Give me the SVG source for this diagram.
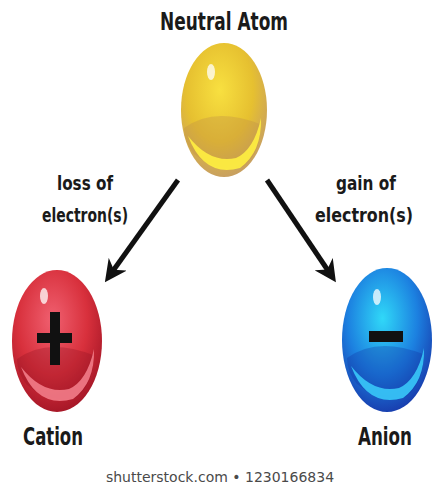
<svg xmlns="http://www.w3.org/2000/svg" width="432" height="489" viewBox="0 0 432 489">
  <style>
    .title { font-family: "DejaVu Sans Condensed", "Liberation Sans", sans-serif; font-weight: bold; fill: #1a1a1a; }
    .label { font-family: "DejaVu Sans Condensed", "Liberation Sans", sans-serif; font-weight: bold; fill: #1a1a1a; font-size: 20px; text-anchor: middle; }
    .mark { font-family: "DejaVu Sans", "Liberation Sans", sans-serif; fill: #4a4a4a; font-size: 14px; }
    .arrow { stroke: #111; stroke-width: 5; fill: none; marker-end: url(#head); }
    .shine { fill: #fff; opacity: 0.75; }
  </style>
  <defs>
    <marker id="head" viewBox="0 0 10 10" refX="6" refY="5" markerWidth="4.4" markerHeight="4.4" orient="auto">
      <path d="M0,0 L10,5 L0,10 L3,5 Z" fill="#111"/>
    </marker>
    <!-- sphere shading: shadow band and bright crescent, relative to the sphere centre -->
    <path id="band" d="M-40,18 Q-10,-4 36,14 Q38,40 20,56 Q-6,64 -30,44 Q-40,32 -40,18 Z"/>
    <path id="crescent" d="M-36,26 Q-20,68 16,58 Q38,42 37,8 Q30,40 12,48 Q-14,54 -36,26 Z"/>
    <radialGradient id="gYellow" cx="0.45" cy="0.35" r="0.65">
      <stop offset="0" stop-color="#f8e040"/>
      <stop offset="0.6" stop-color="#e6c030"/>
      <stop offset="1" stop-color="#c8a060"/>
    </radialGradient>
    <radialGradient id="gRed" cx="0.45" cy="0.35" r="0.65">
      <stop offset="0" stop-color="#f06070"/>
      <stop offset="0.6" stop-color="#d8303c"/>
      <stop offset="1" stop-color="#a81828"/>
    </radialGradient>
    <radialGradient id="gBlue" cx="0.45" cy="0.35" r="0.65">
      <stop offset="0" stop-color="#30d8f8"/>
      <stop offset="0.6" stop-color="#1c80e0"/>
      <stop offset="1" stop-color="#1840b0"/>
    </radialGradient>
  </defs>

  <g id="neutral-atom">
    <text class="title" x="224" y="30" font-size="24" text-anchor="middle" textLength="128" lengthAdjust="spacingAndGlyphs">Neutral Atom</text>
    <ellipse cx="224" cy="110" rx="43" ry="67" fill="url(#gYellow)"/>
    <use href="#band" transform="translate(224,110)" fill="#c09048" opacity="0.35"/>
    <use href="#crescent" transform="translate(224,110)" fill="#fff040" opacity="0.9"/>
    <ellipse class="shine" cx="211" cy="72" rx="4" ry="8"/>
  </g>

  <g id="cation">
    <ellipse cx="57" cy="341" rx="45" ry="71" fill="url(#gRed)"/>
    <use href="#band" transform="translate(57,341)" fill="#901020" opacity="0.3"/>
    <use href="#crescent" transform="translate(57,341)" fill="#f27c88" opacity="0.9"/>
    <ellipse class="shine" cx="44" cy="296" rx="4" ry="8"/>
    <rect x="50" y="312" width="10" height="53" fill="#111"/>
    <rect x="37" y="333" width="35" height="10" fill="#111"/>
    <text class="title" x="53" y="445" font-size="24" text-anchor="middle" textLength="60" lengthAdjust="spacingAndGlyphs">Cation</text>
  </g>

  <g id="anion">
    <ellipse cx="387" cy="340" rx="45" ry="72" fill="url(#gBlue)"/>
    <use href="#band" transform="translate(387,340)" fill="#1030a0" opacity="0.3"/>
    <use href="#crescent" transform="translate(387,340)" fill="#38c8f8" opacity="0.9"/>
    <ellipse class="shine" cx="377" cy="297" rx="4" ry="8"/>
    <rect x="369" y="331" width="34" height="11" fill="#111"/>
    <text class="title" x="385" y="445" font-size="24" text-anchor="middle" textLength="54" lengthAdjust="spacingAndGlyphs">Anion</text>
  </g>

  <g id="connectors">
    <line class="arrow" x1="178" y1="180" x2="110" y2="275"/>
    <line class="arrow" x1="267" y1="180" x2="331" y2="275"/>
    <text class="label" x="85" y="190" textLength="56" lengthAdjust="spacingAndGlyphs">loss of</text>
    <text class="label" x="85" y="222" textLength="86" lengthAdjust="spacingAndGlyphs">electron(s)</text>
    <text class="label" x="366" y="190" textLength="60" lengthAdjust="spacingAndGlyphs">gain of</text>
    <text class="label" x="364" y="222" textLength="98" lengthAdjust="spacingAndGlyphs">electron(s)</text>
  </g>

  <text class="mark" x="220" y="482" text-anchor="middle">shutterstock.com • 1230166834</text>
</svg>
